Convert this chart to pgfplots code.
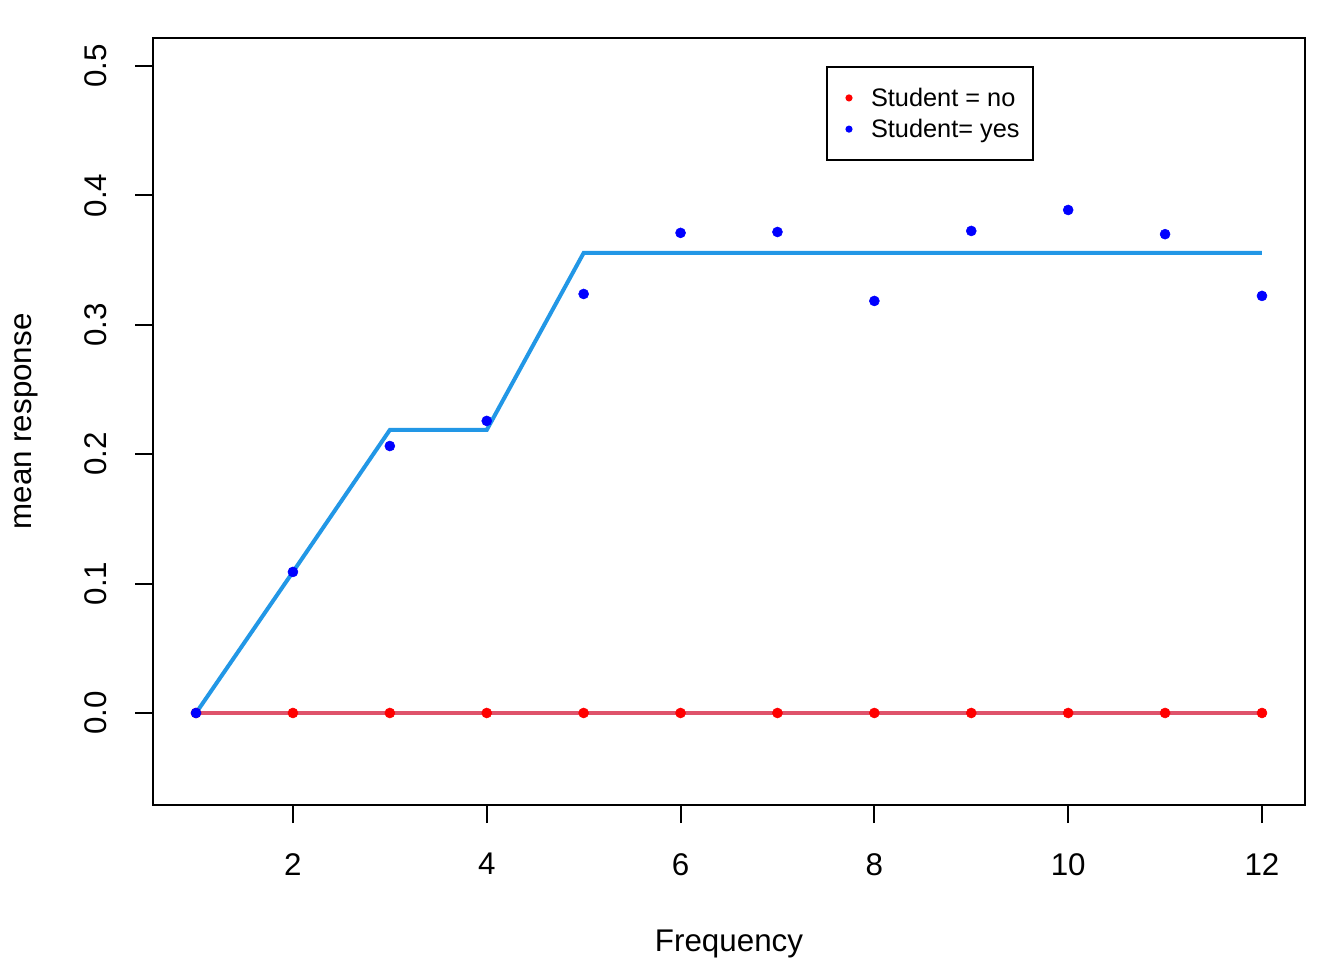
\documentclass[border=0pt]{standalone}
\usepackage{pgfplots}
\pgfplotsset{compat=1.18}
\usepackage{fontspec}
\setmainfont{Liberation Sans}
\definecolor{rred}{HTML}{DF536B}
\definecolor{rblue}{HTML}{2297E6}
\definecolor{pred}{HTML}{FF0000}
\definecolor{pblue}{HTML}{0000FF}
\begin{document}
\begin{tikzpicture}
\useasboundingbox (0,0) rectangle (1008pt,720pt);
\begin{axis}[
  at={(114.75pt,116.25pt)}, anchor=south west,
  scale only axis, width=864pt, height=575.25pt,
  xmin=0.556, xmax=12.444, ymin=-0.0711, ymax=0.5216,
  axis line style={line width=1.5pt},
  every tick/.style={black, line width=1.5pt},
  tick align=outside, major tick length=13.5pt,
  xtick={2,4,6,8,10,12}, ytick={0,0.1,0.2,0.3,0.4,0.5},
  xtick pos=bottom, ytick pos=left,
  /pgf/number format/assume math mode=true,
  tick label style={font=\fontsize{23.5}{28}\selectfont},
  label style={font=\fontsize{23.5}{28}\selectfont},
  yticklabel style={/pgf/number format/fixed, /pgf/number format/fixed zerofill, /pgf/number format/precision=1, rotate=90, anchor=south, inner sep=0pt},
  xticklabel style={anchor=north, inner sep=0pt},
  xticklabel shift=22.5pt, yticklabel shift=21.3pt,
  xlabel={Frequency}, ylabel={mean response},
  xlabel style={at={(axis description cs:0.5,0)}, anchor=base, yshift=-110pt},
  ylabel style={at={([xshift=-90.75pt]axis description cs:0,0.5)}, anchor=base},
  legend style={at={(axis description cs:0.5842,0.9635)}, anchor=north west, draw=black, line width=1.5pt, inner xsep=10pt, inner ysep=11.5pt, row sep=0pt, nodes={inner sep=0pt, anchor=west}, font=\fontsize{19}{23}\selectfont},
  legend image code/.code={\path[draw=none, fill=none] (-6.5pt,-11.7pt) rectangle (16.5pt,11.7pt); \fill[#1, draw=none] (0pt,0pt) circle (2.7pt);},
  legend cell align=left,
  clip=false,
]
\addplot[only marks, mark=*, mark size=3.75pt, color=pred, mark options={draw=pred, fill=pred}] coordinates {
(1,0) (2,0) (3,0) (4,0) (5,0) (6,0) (7,0) (8,0) (9,0) (10,0) (11,0) (12,0)};
\addlegendentry{Student = no}
\addplot[only marks, mark=*, mark size=3.75pt, color=pblue, mark options={draw=pblue, fill=pblue}] coordinates {
(1,0) (2,0.109) (3,0.2063) (4,0.2257) (5,0.3238) (6,0.3710) (7,0.3717) (8,0.3184) (9,0.3725) (10,0.3887) (11,0.3700) (12,0.3223)};
\addlegendentry{Student= yes}
\addplot[forget plot, color=rred, line width=3pt] coordinates {(1,0) (12,0)};
\addplot[forget plot, color=rblue, line width=3pt] coordinates {
(1,0) (2,0.109) (3,0.2187) (4,0.2187) (5,0.3555) (6,0.3555) (7,0.3555) (8,0.3555) (9,0.3555) (10,0.3555) (11,0.3555) (12,0.3555)};
\end{axis}
\end{tikzpicture}
\end{document}
